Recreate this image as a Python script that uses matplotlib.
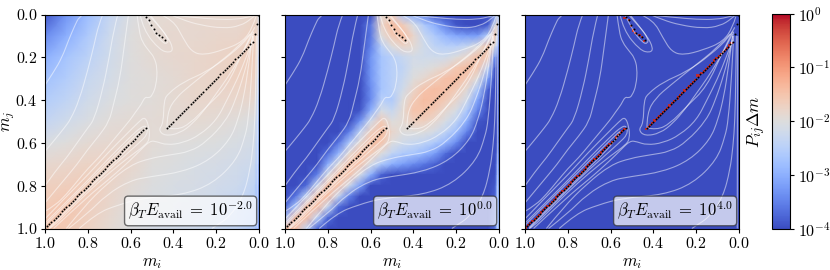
import numpy as np
import matplotlib
matplotlib.use("Agg")
import matplotlib.pyplot as plt
from matplotlib.colors import LogNorm
from matplotlib.cm import ScalarMappable
from matplotlib.patches import PathPatch
from matplotlib.path import Path

plt.rcParams["font.family"] = ["cmr10", "DejaVu Serif"]
plt.rcParams["mathtext.fontset"] = "cm"
plt.rcParams["axes.formatter.use_mathtext"] = True
plt.rcParams["font.size"] = 10

# dots on the three ridges + corner
ridge1 = [1.00, 0.99, 0.98, 0.97, 0.96, 0.95, 0.94, 0.93, 0.92, 0.91, 0.90, 0.89, 0.88, 0.87, 0.86, 0.85,
          0.84, 0.83, 0.82, 0.81, 0.80, 0.79, 0.78, 0.77, 0.76, 0.75, 0.74, 0.73, 0.72, 0.71, 0.70, 0.69,
          0.68, 0.67, 0.66, 0.65, 0.64, 0.63, 0.62, 0.61, 0.60, 0.59, 0.58, 0.57, 0.56, 0.55, 0.54, 0.53]
ridge2_i = [0.43, 0.42, 0.41, 0.40, 0.39, 0.38, 0.37, 0.36, 0.35, 0.34, 0.33, 0.32, 0.31, 0.30, 0.29, 0.28,
            0.27, 0.26, 0.25, 0.24, 0.23, 0.22, 0.21, 0.20, 0.19, 0.18, 0.17, 0.16, 0.15, 0.14, 0.13, 0.12,
            0.11, 0.10, 0.09, 0.08, 0.07, 0.06, 0.05, 0.04, 0.03]
ridge2_j = [0.53, 0.52, 0.51, 0.50, 0.49, 0.48, 0.47, 0.46, 0.45, 0.44, 0.43, 0.42, 0.41, 0.40, 0.39, 0.38,
            0.37, 0.36, 0.35, 0.34, 0.33, 0.32, 0.31, 0.30, 0.29, 0.28, 0.27, 0.26, 0.25, 0.24, 0.23, 0.22,
            0.21, 0.20, 0.19, 0.18, 0.17, 0.16, 0.15, 0.14, 0.13]
island_i = [0.53, 0.515, 0.505, 0.49, 0.48, 0.465, 0.455, 0.44]
island_j = [0.01, 0.025, 0.05, 0.07, 0.085, 0.095, 0.105, 0.12]
corner_i = [0.02, 0.01, 0.003]
corner_j = [0.09, 0.045, 0.003]

# log10 heat values, panel 1
mi_a = [1, .9, .8, .7, .6, .5, .4, .3, .2, .1, .02, .006, 0]
mj_a = [0, .1, .2, .3, .4, .5, .6, .7, .8, .9, 1]
heat_a = [
    [-3.9, -3.3, -2.8, -2.35, -2.05, -1.9, -1.88, -1.85, -1.85, -1.85, -1.8, -1.9, -2.2],
    [-3.4, -3.0, -2.6, -2.25, -2.0, -1.88, -1.85, -1.85, -1.82, -1.8, -1.7, -1.8, -2.5],
    [-3.0, -2.7, -2.45, -2.2, -2.0, -1.9, -1.85, -1.82, -1.78, -1.72, -1.65, -1.9, -3.0],
    [-2.75, -2.55, -2.3, -2.15, -2.0, -1.95, -1.9, -1.82, -1.78, -1.72, -1.72, -2.1, -3.0],
    [-2.55, -2.4, -2.2, -2.05, -1.98, -1.95, -1.88, -1.82, -1.82, -1.82, -1.85, -2.3, -3.1],
    [-2.35, -2.2, -2.05, -1.95, -1.9, -1.92, -1.88, -1.88, -1.92, -1.98, -2.05, -2.5, -3.1],
    [-2.05, -1.98, -1.9, -1.85, -1.82, -1.92, -1.98, -2.0, -2.02, -2.08, -2.15, -2.6, -3.1],
    [-1.85, -1.8, -1.75, -1.72, -1.82, -1.98, -2.03, -2.08, -2.12, -2.18, -2.25, -2.7, -3.2],
    [-1.7, -1.66, -1.62, -1.78, -1.92, -2.03, -2.08, -2.12, -2.18, -2.25, -2.4, -2.9, -3.3],
    [-1.6, -1.52, -1.68, -1.82, -1.98, -2.08, -2.12, -2.18, -2.25, -2.35, -2.5, -3.0, -3.3],
    [-1.5, -1.58, -1.72, -1.88, -2.02, -2.12, -2.18, -2.22, -2.3, -2.42, -2.6, -3.0, -3.4],
]

# panel 2
mi_b = [1, .95, .9, .85, .8, .75, .7, .65, .6, .55, .5, .45, .4, .35, .3, .25, .2, .15, .1, .05, .02, .01, 0]
mj_b = [0, .05, .1, .15, .2, .25, .3, .35, .4, .45, .5, .55, .6, .65, .7, .75, .8, .85, .9, .95, 1]
heat_b = [
    [-4, -4, -4, -4, -4, -4, -4, -4, -4, -1.9, -1.7, -2.6, -3, -3.4, -3.9, -4, -4, -4, -4, -4, -3.5, -2.5, -2.5],
    [-4, -4, -4, -4, -4, -4, -4, -4, -3.6, -1.8, -1.4, -1.6, -2.1, -2.6, -3.0, -3.5, -3.9, -4, -4, -3.8, -2.2, -1.8, -2.6],
    [-4, -4, -4, -4, -4, -4, -4, -4, -3.6, -2.0, -1.6, -1.4, -1.8, -2.3, -2.6, -2.9, -3.1, -3.2, -3.2, -2.5, -1.5, -2.0, -3.3],
    [-4, -4, -4, -4, -4, -4, -4, -4, -3.5, -2.5, -2.0, -1.8, -1.9, -2.2, -2.4, -2.5, -2.5, -2.3, -2.0, -1.45, -2.0, -3.0, -3.5],
    [-4, -4, -4, -4, -4, -4, -4, -4, -3.3, -2.7, -2.5, -2.3, -2.15, -2.2, -2.2, -2.2, -2.0, -1.8, -1.45, -1.6, -3.2, -3.8, -3.6],
    [-4, -4, -4, -4, -4, -4, -4, -4, -3.3, -2.7, -2.5, -2.4, -2.1, -2.05, -1.95, -1.8, -1.55, -1.4, -1.55, -2.4, -3.8, -4, -3.6],
    [-4, -4, -4, -4, -4, -4, -4, -4, -3.3, -2.7, -2.5, -2.3, -2.0, -1.85, -1.65, -1.45, -1.4, -1.6, -2.0, -3.2, -4, -4, -3.6],
    [-4, -4, -4, -4, -4, -4, -4, -4, -3.4, -2.7, -2.5, -2.2, -1.8, -1.5, -1.4, -1.45, -1.6, -1.9, -2.6, -3.8, -4, -4, -3.6],
    [-4, -4, -4, -4, -4, -4, -4, -4, -3.4, -2.5, -2.6, -2.0, -1.6, -1.4, -1.45, -1.6, -1.8, -2.2, -3.1, -4, -4, -4, -3.5],
    [-4, -4, -4, -4, -4, -4, -4, -3.9, -3.0, -2.1, -2.3, -1.9, -1.5, -1.5, -1.6, -1.85, -2.1, -2.6, -3.5, -4, -4, -4, -3.5],
    [-4, -4, -4, -4, -4, -4, -4, -3.3, -2.2, -1.6, -2.0, -1.9, -1.7, -1.7, -1.85, -2.1, -2.4, -3.0, -3.9, -4, -4, -4, -3.5],
    [-4, -4, -4, -4, -4, -4, -3.5, -2.4, -1.7, -1.4, -1.8, -2.0, -2.0, -2.0, -2.15, -2.4, -2.8, -3.5, -4, -4, -4, -4, -3.4],
    [-4, -4, -4, -4, -4, -3.6, -2.6, -1.9, -1.4, -1.5, -2.0, -2.2, -2.3, -2.4, -2.6, -2.9, -3.4, -4, -4, -4, -4, -4, -3.4],
    [-4, -4, -4, -4, -3.7, -2.9, -1.9, -1.4, -1.6, -2.0, -2.4, -2.6, -2.7, -2.9, -3.2, -3.7, -4, -4, -4, -4, -4, -3.8, -3.3],
    [-4, -4, -4, -4, -3.0, -2.0, -1.4, -1.5, -2.1, -2.6, -3.0, -3.2, -3.4, -3.6, -3.8, -4, -4, -4, -4, -4, -4, -3.6, -3.2],
    [-4, -4, -4, -3.5, -2.1, -1.4, -1.5, -2.1, -3.0, -3.8, -4, -4, -4, -4, -4, -4, -4, -4, -4, -4, -4, -3.5, -3.0],
    [-4, -4, -3.7, -2.3, -1.4, -1.5, -2.2, -3.2, -4, -4, -4, -4, -4, -4, -4, -4, -4, -4, -4, -4, -3.9, -3.3, -2.9],
    [-4, -3.6, -2.4, -1.4, -1.4, -2.3, -3.5, -4, -4, -4, -4, -4, -4, -4, -4, -4, -4, -4, -4, -4, -3.8, -3.2, -2.8],
    [-3.7, -2.6, -1.4, -1.4, -2.3, -3.7, -4, -4, -4, -4, -4, -4, -4, -4, -4, -4, -4, -4, -4, -4, -3.8, -3.1, -2.7],
    [-2.7, -1.4, -1.4, -2.4, -3.7, -4, -4, -4, -4, -4, -4, -4, -4, -4, -4, -4, -4, -4, -4, -4, -3.7, -3.1, -2.7],
    [-1.4, -1.4, -2.4, -3.7, -4, -4, -4, -4, -4, -4, -4, -4, -4, -4, -4, -4, -4, -4, -4, -4, -3.7, -3.0, -2.7],
]

# panel 3, floor value and the value on the ridge cells
heat_c_floor = -4.0
heat_c_ridge = -0.15

# white curves, (m_i, m_j)
curves = [
    [(1, .33), (.96, .27), (.92, .2), (.89, .12), (.86, .05), (.84, .01), (.82, 0)],
    [(1, .64), (.95, .58), (.91, .53), (.88, .49), (.84, .40), (.80, .26), (.77, .14), (.75, .05), (.73, 0)],
    [(1, .80), (.95, .73), (.90, .67), (.85, .60), (.80, .53), (.77, .49), (.73, .35), (.70, .2), (.68, .08), (.66, 0)],
    [(1, .88), (.95, .82), (.90, .76), (.85, .70), (.80, .63), (.75, .57), (.70, .50), (.68, .42), (.65, .30), (.63, .15), (.61, 0)],
    [(.57, 0), (.56, .08), (.545, .13), (.51, .175), (.49, .20), (.475, .25), (.48, .33), (.50, .38), (.515, .39),
     (.533, .385), (.55, .42), (.58, .46), (.60, .49), (.65, .55), (.70, .61), (.75, .67), (.80, .72), (.85, .78),
     (.90, .84), (.95, .89), (1, .92)],
    [(.556, 0), (.54, .073), (.463, .167), (.416, .179), (.40, .159), (.431, .097), (.494, .026), (.517, 0)],
    [(.533, 0), (.50, .073), (.447, .135), (.427, .135), (.424, .112), (.463, .058), (.51, 0)],
    [(.44, 0), (.308, .013), (.198, .023), (.104, .023), (.042, .01), (.01, 0)],
    [(.416, 0), (.354, .026), (.276, .049), (.168, .065), (.089, .054), (.034, .02), (.015, 0)],
    [(.46, 0), (.40, .026), (.355, .11), (.315, .174), (.26, .19), (.168, .166), (.074, .127), (.028, .057), (.015, .01)],
    [(.02, .06), (.042, .104), (.135, .19), (.245, .268), (.354, .315), (.424, .369), (.444, .40), (.447, .509),
     (.47, .54), (.44, .568), (.369, .555), (.308, .508), (.25, .44), (.2, .37), (.15, .30), (.1, .22), (.06, .15), (.03, .09)],
    [(.43, .53), (.43, .46), (.39, .39), (.32, .33), (.22, .25), (.1, .155), (.04, .09)],
    [(.43, .53), (.385, .54), (.322, .51), (.245, .43), (.15, .338), (.073, .167), (.03, .08)],
    [(.96, 1), (.80, .85), (.70, .77), (.60, .68), (.55, .63), (.509, .59), (.478, .594), (.431, .61), (.355, .60),
     (.276, .563), (.198, .493), (.15, .40), (.10, .30), (.06, .2), (.03, .12)],
    [(.90, 1), (.82, .90), (.71, .79), (.60, .703), (.509, .672), (.416, .656), (.322, .641), (.244, .594),
     (.151, .493), (.11, .40), (.07, .28), (.04, .16), (.025, .08)],
    [(.89, 1), (.80, .93), (.71, .84), (.60, .775), (.509, .758), (.355, .735), (.229, .68), (.136, .586),
     (.098, .493), (.07, .38), (.05, .25), (.03, .1)],
    [(.84, 1), (.76, .93), (.66, .89), (.54, .857), (.355, .843), (.215, .79), (.104, .68), (.065, .571), (.05, .493),
     (.035, .3), (.025, .1)],
    [(.22, 1), (.206, .99), (.136, .945), (.074, .85), (.042, .727), (.028, .618), (.019, .493), (.015, .3), (.012, .1)],
    [(1, .955), (.9, .85), (.8, .75), (.7, .64), (.62, .56), (.56, .50), (.533, .478), (.515, .52), (.51, .58),
     (.53, .61), (.6, .66), (.7, .74), (.8, .83), (.9, .93), (.96, .99), (.98, 1)],
    [(1, .975), (.9, .875), (.8, .775), (.7, .67), (.6, .57), (.55, .525), (.525, .52), (.52, .56), (.56, .60),
     (.65, .68), (.75, .77), (.85, .87), (.95, .97), (.98, 1)],
    [(1, .985), (.8, .785), (.6, .585), (.54, .53), (.6, .62), (.8, .81), (.98, .995)],
    [(.008, 1), (.008, .5), (.006, .1)],
]

legend_labels = [r"$\beta_T E_{\rm avail}\;=\;10^{-2.0}$",
                 r"$\beta_T E_{\rm avail}\;=\;10^{0.0}$",
                 r"$\beta_T E_{\rm avail}\;=\;10^{4.0}$"]
tick_vals = [1.0, 0.8, 0.6, 0.4, 0.2, 0.0]

W, H = 830, 270
norm = LogNorm(vmin=1e-4, vmax=1)
cmap = "coolwarm"

fig = plt.figure(figsize=(W / 100, H / 100), dpi=100)


def px_axes(x0, x1, y0, y1):
    return fig.add_axes([x0 / W, 1 - y1 / H, (x1 - x0) / W, (y1 - y0) / H])


def rounded(points):
    # quadratic segments through the midpoints, so the corners do not show
    verts = [points[0]]
    codes = [Path.MOVETO]
    for k in range(1, len(points) - 1):
        a, b = points[k], points[k + 1]
        end = b if k == len(points) - 2 else ((a[0] + b[0]) / 2, (a[1] + b[1]) / 2)
        verts += [a, end]
        codes += [Path.CURVE3, Path.CURVE3]
    if len(points) == 2:
        verts.append(points[1])
        codes.append(Path.LINETO)
    return Path(verts, codes)


axes = [px_axes(45, 259, 14.5, 228.5), px_axes(285, 499, 14.5, 228.5), px_axes(525, 739, 14.5, 228.5)]

axes[0].pcolormesh(mi_a, mj_a, 10.0 ** np.array(heat_a), shading="gouraud", norm=norm, cmap=cmap)
axes[1].pcolormesh(mi_b, mj_b, 10.0 ** np.array(heat_b), shading="gouraud", norm=norm, cmap=cmap)

# third panel is flat apart from the ridge cells
edges = np.linspace(0, 1, 101)
heat_c = np.full((100, 100), heat_c_floor)
for i, j in list(zip(ridge1, ridge1)) + list(zip(ridge2_i, ridge2_j)) + list(zip(island_i, island_j)):
    heat_c[min(int(j * 100), 99), min(int(i * 100), 99)] = heat_c_ridge
axes[2].pcolormesh(edges, edges, 10.0 ** heat_c, norm=norm, cmap=cmap)

for n, ax in enumerate(axes):
    for c in curves:
        ax.add_patch(PathPatch(rounded(c), fc="none", ec="white", lw=0.8, alpha=0.5))
    for xs, ys in [(ridge1, ridge1), (ridge2_i, ridge2_j), (island_i, island_j), (corner_i, corner_j)]:
        ax.scatter(xs, ys, s=2.0, c="k", lw=0, zorder=3)
    ax.set_xlim(1, 0)
    ax.set_ylim(1, 0)
    ax.set_xticks(tick_vals)
    ax.set_yticks(tick_vals)
    ax.tick_params(labelsize=11.5, length=3, width=0.8, pad=2.5)
    ax.set_xlabel(r"$m_i$", fontsize=12, labelpad=3)
    if n == 0:
        ax.set_ylabel(r"$m_j$", fontsize=12, labelpad=-1)
    else:
        ax.set_yticklabels([])
    ax.text(0.972, 0.03, legend_labels[n], transform=ax.transAxes, ha="right", va="bottom", fontsize=12,
            zorder=5, bbox=dict(boxstyle="round,pad=0.22", fc="white", ec="#333333", alpha=0.7, lw=1))

cax = px_axes(772, 790, 13.5, 229)
cb = fig.colorbar(ScalarMappable(norm=norm, cmap=cmap), cax=cax)
cb.ax.minorticks_off()
cb.ax.tick_params(labelsize=11.5, length=3, width=0.8, pad=2.5)
cb.ax.yaxis.set_label_position("left")
cb.set_label(r"$P_{ij}\Delta m$", fontsize=12.5, labelpad=3)

fig.savefig("out.png", dpi=100)
